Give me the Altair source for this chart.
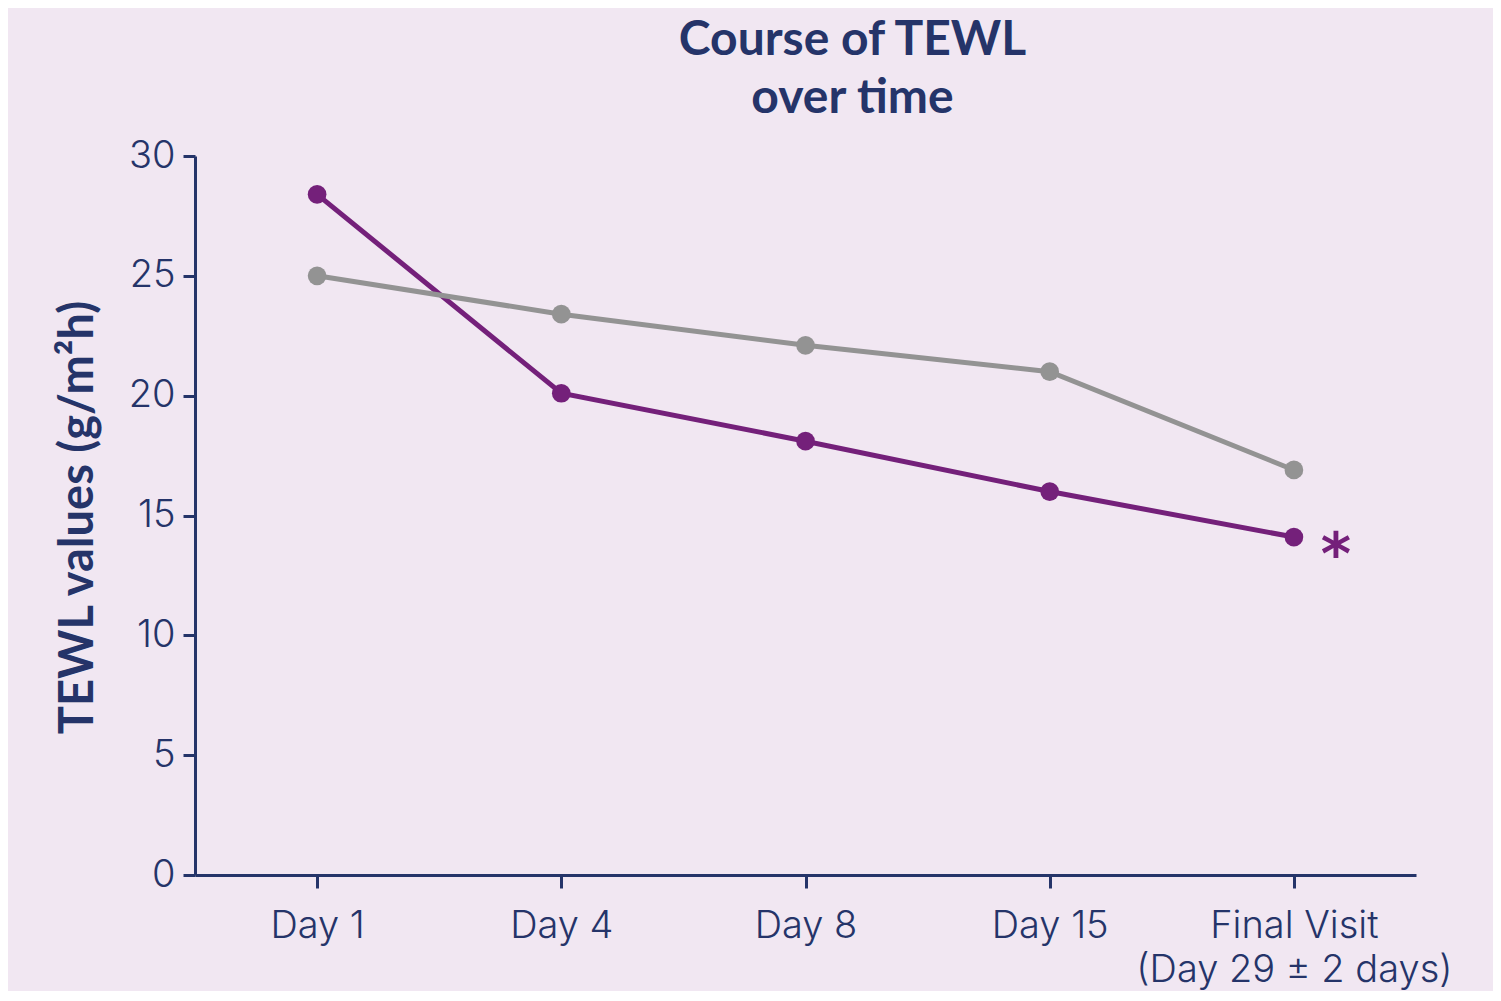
import altair as alt
import pandas as pd

days = ["Day 1", "Day 4", "Day 8", "Day 15", "Final Visit|(Day 29 ± 2 days)"]
purple_vals = [28.4, 20.1, 18.1, 16.0, 14.1]
gray_vals = [25.0, 23.4, 22.1, 21.0, 16.9]
series_names = ["Treated", "Control"]
star_day = ["Final Visit|(Day 29 ± 2 days)"]
star_val = [14.1]
star_text = ["*"]

NAVY = "#253469"
PURPLE = "#74207a"
GRAY = "#939393"
BG = "#f1e7f2"

rows = []
for d, v in zip(days, purple_vals):
    rows.append({"day": d, "value": v, "series": series_names[0]})
for d, v in zip(days, gray_vals):
    rows.append({"day": d, "value": v, "series": series_names[1]})
df = pd.DataFrame(rows)
stars = pd.DataFrame({"day": star_day, "value": star_val, "text": star_text})

LFONT = "Inter"
BFONT = "Lato"

x = alt.X("day:N", sort=days, scale=alt.Scale(paddingInner=0, paddingOuter=0.5),
          axis=alt.Axis(title=None, labelExpr="split(datum.label, '|')",
                        labelAngle=0, labelFontSize=38, labelFont=LFONT, labelFontWeight=300,
                        labelColor=NAVY, labelPadding=19, labelLineHeight=44, labelLimit=0,
                        tickSize=13, tickWidth=3, tickColor=NAVY,
                        domainColor=NAVY, domainWidth=3))
y = alt.Y("value:Q", scale=alt.Scale(domain=[0, 30], nice=False),
          axis=alt.Axis(title="TEWL values (g/m²h)", values=[0, 5, 10, 15, 20, 25, 30],
                        labelFontSize=38, labelFont=LFONT, labelFontWeight=300,
                        labelColor=NAVY, labelPadding=8,
                        titleFontSize=47, titleFont=BFONT, titleFontWeight="bold",
                        titleColor=NAVY, titleX=-117, titleY=361, titleAngle=-90,
                        titleAlign="center", titleBaseline="middle",
                        tickSize=12, tickWidth=3, tickColor=NAVY,
                        domainColor=NAVY, domainWidth=3, grid=False))

color = alt.Color("series:N", scale=alt.Scale(domain=series_names, range=[PURPLE, GRAY]), legend=None)

lines = alt.Chart(df).mark_line(strokeWidth=5).encode(x=x, y=y, color=color)
points = alt.Chart(df).mark_point(filled=True, size=350, opacity=1).encode(x=x, y=y, color=color)
star = alt.Chart(stars).mark_text(font="DejaVu Sans", fontSize=58, fontWeight="bold", color=PURPLE,
                                  baseline="alphabetic", dx=42, dy=37).encode(x=x, y=y, text="text:N")

chart = alt.layer(lines, points, star).properties(
    width=1221, height=719,
    autosize=alt.AutoSizeParams(type="none"),
    title=alt.TitleParams(["Course of TEWL", "over time"], font=BFONT, fontSize=48,
                          fontWeight="bold", color=NAVY, anchor="middle", dx=47,
                          lineHeight=58, offset=14),
    background=BG,
    padding={"left": 187, "top": 148, "right": 77, "bottom": 116},
).configure_view(stroke=None)

chart.save("out.html", embed_options={"renderer": "svg", "actions": False})
